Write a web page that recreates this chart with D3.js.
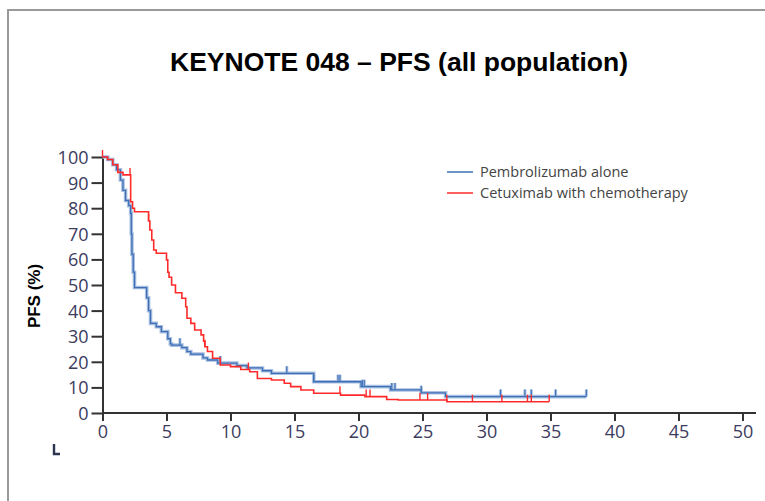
<!DOCTYPE html>
<html>
<head>
<meta charset="utf-8">
<script src="https://cdn.jsdelivr.net/npm/d3@7"></script>
<style>
  html, body { margin: 0; padding: 0; background: #fff; }
  svg { display: block; }
</style>
</head>
<body>
<svg id="chart" width="765" height="501"></svg>
<script>
// Kaplan–Meier progression-free survival, KEYNOTE-048 (all population)
const title = "KEYNOTE 048 – PFS (all population)";
const yTitle = "PFS (%)";
const seriesNames = ["Pembrolizumab alone", "Cetuximab with chemotherapy"];

const xTicks = [0, 5, 10, 15, 20, 25, 30, 35, 40, 45, 50];
const yTicks = [0, 10, 20, 30, 40, 50, 60, 70, 80, 90, 100];

// Step points: time (months) and survival (%) holding from that time on
const pembroTimes  = [0, 0.4, 0.8, 1.1, 1.4, 1.6, 1.8, 2.05, 2.2, 2.25, 2.3, 2.4, 2.5, 3.45, 3.6, 3.75, 4.2, 4.6, 5.1, 5.3, 5.4, 6.2, 6.6, 6.9, 7.85, 8.2, 9.0, 10.5, 11.3, 12.5, 13.2, 16.5, 20.2, 22.5, 24.9, 26.8, 37.8];
const pembroValues = [100, 99, 97, 95, 91, 87, 83, 81, 78, 70, 62, 55, 49, 45, 40, 35, 33.7, 31.8, 29, 27, 26.5, 25.5, 24, 23, 21.5, 20.7, 19.5, 18.5, 17.6, 16.5, 15.5, 12.2, 10.3, 9.0, 7.9, 6.4, 6.4];
const pembroCensored = [6.05, 9.2, 14.4, 16.5, 18.4, 18.55, 20.3, 20.45, 22.6, 22.85, 24.9, 31.1, 33.0, 33.5, 35.4, 37.8];

const cetuxTimes  = [0, 0.4, 0.8, 1.2, 1.6, 2.2, 2.35, 2.5, 3.6, 3.7, 3.85, 4.0, 4.2, 5.0, 5.1, 5.2, 5.4, 5.7, 6.2, 6.5, 6.6, 6.9, 7.2, 7.7, 7.9, 8.0, 8.2, 8.6, 9.2, 10.0, 10.8, 11.5, 12.1, 13.2, 14.2, 14.7, 15.5, 16.5, 18.6, 20.5, 22.2, 23.1, 26.9, 34.9];
const cetuxValues = [100, 99, 97, 94, 93, 82.5, 80, 78.6, 75, 71.5, 67.6, 63.7, 62.4, 59.8, 55, 53, 50, 47, 44.8, 41.5, 37, 35, 32.4, 30.5, 28, 25.9, 24, 21.4, 18.75, 18.1, 17, 16.1, 13.5, 12.9, 11.6, 10.3, 9, 7.7, 7, 6.4, 5.3, 5.1, 4.4, 4.4];
const cetuxCensored = [0, 2.15, 3.6, 8.0, 11.4, 18.55, 20.6, 20.9, 24.8, 25.4, 26.9, 28.9, 31.2, 33.2, 33.5, 34.9];

const svg = d3.select("#chart");

// outer frame
svg.append("rect")
  .attr("x", 8).attr("y", 10)
  .attr("width", 800).attr("height", 520)
  .attr("fill", "none")
  .attr("stroke", "#9a9a9a")
  .attr("stroke-width", 2);

svg.append("text")
  .attr("x", 399).attr("y", 71)
  .attr("text-anchor", "middle")
  .attr("font-family", "'Liberation Sans', Arial, sans-serif")
  .attr("font-weight", "bold")
  .attr("font-size", 26.5)
  .attr("fill", "#000")
  .text(title);

const x = d3.scaleLinear().domain([0, 50]).range([102.5, 742.5]);
const y = d3.scaleLinear().domain([0, 100]).range([413, 157]);

const tickFont = "'Open Sans', 'Noto Sans', sans-serif";
const tickColor = "#3b3b5e";

// x axis
const xAxis = svg.append("g")
  .attr("transform", `translate(0,${y(0)})`)
  .call(d3.axisBottom(x).tickValues(xTicks).tickSize(8).tickSizeOuter(0).tickPadding(4));
xAxis.select(".domain").attr("d", `M${x(0)},0H756`);
// y axis
const yAxis = svg.append("g")
  .attr("transform", `translate(${x(0)},0)`)
  .call(d3.axisLeft(y).tickValues(yTicks).tickSize(11).tickSizeOuter(0).tickPadding(3));

[xAxis, yAxis].forEach(g => {
  g.select(".domain").attr("stroke", "#333").attr("stroke-width", 2);
  g.selectAll(".tick line").attr("stroke", "#333").attr("stroke-width", 2);
  g.selectAll(".tick text")
    .attr("font-family", tickFont)
    .attr("font-size", 18)
    .attr("fill", tickColor);
});
yAxis.selectAll(".tick text").attr("dy", "0.36em");

svg.append("text")
  .attr("transform", `translate(40,296) rotate(-90)`)
  .attr("text-anchor", "middle")
  .attr("font-family", "'Liberation Sans', Arial, sans-serif")
  .attr("font-weight", "bold")
  .attr("font-size", 17)
  .attr("fill", "#000")
  .text(yTitle);

const stepLine = d3.line()
  .x(d => x(d[0]))
  .y(d => y(d[1]))
  .curve(d3.curveStepAfter);

function valueAt(times, values, t) {
  let v = values[0];
  for (let i = 0; i < times.length; i++) if (times[i] <= t) v = values[i];
  return v;
}

function censorPath(times, values, marks, h) {
  return marks.map(t => {
    const px = x(t), py = y(valueAt(times, values, t));
    return `M${px},${py}V${py - h}`;
  }).join("");
}

const pembroPts = pembroTimes.map((t, i) => [t, pembroValues[i]]);
const cetuxPts = cetuxTimes.map((t, i) => [t, cetuxValues[i]]);

// Pembrolizumab: soft light-blue halo under a darker core
const blueHalo = "#a9c0e2", blueCore = "#3e6fb5";
svg.append("path").datum(pembroPts).attr("d", stepLine)
  .attr("fill", "none").attr("stroke", blueHalo).attr("stroke-width", 3.6);
svg.append("path").attr("d", censorPath(pembroTimes, pembroValues, pembroCensored, 7))
  .attr("fill", "none").attr("stroke", blueHalo).attr("stroke-width", 3);
svg.append("path").datum(pembroPts).attr("d", stepLine)
  .attr("fill", "none").attr("stroke", blueCore).attr("stroke-width", 1.3);
svg.append("path").attr("d", censorPath(pembroTimes, pembroValues, pembroCensored, 7))
  .attr("fill", "none").attr("stroke", blueCore).attr("stroke-width", 1.1);

// Cetuximab with chemotherapy
const red = "#ff2b2b";
svg.append("path").datum(cetuxPts).attr("d", stepLine)
  .attr("fill", "none").attr("stroke", red).attr("stroke-width", 1.6);
svg.append("path").attr("d", censorPath(cetuxTimes, cetuxValues, cetuxCensored, 7))
  .attr("fill", "none").attr("stroke", red).attr("stroke-width", 1.4);

// legend
const legend = svg.append("g").attr("transform", "translate(447,172)");
const legendColors = [blueCore, red];
seriesNames.forEach((name, i) => {
  const g = legend.append("g").attr("transform", `translate(0,${i * 21})`);
  g.append("line").attr("x1", 0).attr("x2", 26).attr("y1", 0).attr("y2", 0)
    .attr("stroke", legendColors[i]).attr("stroke-width", 1.5);
  g.append("text").attr("x", 33).attr("y", 5)
    .attr("font-family", tickFont).attr("font-size", 14.5)
    .attr("fill", "#444").text(name);
});

// small corner marker
svg.append("path")
  .attr("d", "M54,444V454H60")
  .attr("fill", "none").attr("stroke", "#2a3550").attr("stroke-width", 2.4);
</script>
</body>
</html>
